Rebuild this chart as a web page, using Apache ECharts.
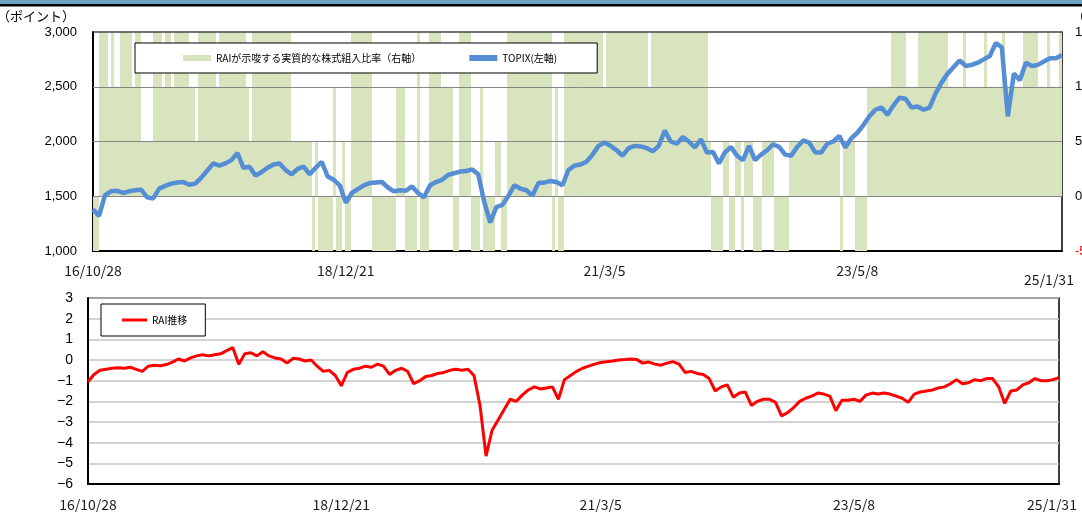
<!DOCTYPE html>
<html><head><meta charset="utf-8">
<script src="https://cdn.jsdelivr.net/npm/echarts@6/dist/echarts.min.js"></script>
<style>html,body{margin:0;padding:0;background:#fff}#c{width:1082px;height:512px}</style>
</head><body><div id="c"></div>
<script>
// x tick labels and the index (in the line series) where each sits
const tickLabels = ['16/10/28','18/12/21','21/3/5','23/5/8','25/1/31'];
const tickIndex = [0,42,85,127,161];

// TOPIX (left axis, points)
const topix = [1380,1320,1510,1545,1550,1530,1545,1555,1560,1490,
 1480,1570,1595,1615,1625,1630,1605,1615,1670,1735,
 1800,1780,1800,1830,1895,1760,1770,1690,1720,1760,
 1790,1800,1740,1700,1750,1770,1700,1760,1815,1680,
 1650,1600,1440,1530,1565,1600,1620,1625,1630,1580,
 1545,1555,1550,1590,1530,1490,1600,1630,1650,1695,
 1710,1725,1730,1745,1700,1450,1260,1400,1420,1500,
 1600,1570,1555,1505,1620,1625,1640,1630,1600,1740,
 1780,1790,1815,1880,1960,1990,1960,1920,1870,1940,
 1960,1955,1940,1910,1960,2100,2000,1980,2040,2000,
 1945,2020,1900,1905,1800,1900,1950,1870,1830,1960,
 1830,1880,1920,1975,1950,1880,1870,1950,2010,1990,
 1900,1900,1980,2000,2050,1945,2030,2080,2150,2230,
 2290,2310,2245,2330,2400,2390,2310,2320,2290,2310,
 2440,2540,2620,2680,2740,2690,2700,2720,2750,2780,
 2900,2860,2230,2620,2560,2720,2690,2700,2730,2760,
 2760,2790];

// RAI (bottom panel)
const rai = [-1.05,-0.7,-0.5,-0.45,-0.4,-0.38,-0.4,-0.35,-0.45,-0.55,
 -0.3,-0.25,-0.28,-0.22,-0.1,0.05,-0.05,0.1,0.2,0.25,
 0.2,0.25,0.3,0.45,0.6,-0.2,0.3,0.35,0.2,0.4,
 0.2,0.1,0.05,-0.15,0.08,0.05,-0.05,0,-0.3,-0.55,
 -0.5,-0.75,-1.25,-0.6,-0.45,-0.4,-0.3,-0.35,-0.2,-0.3,
 -0.7,-0.5,-0.4,-0.55,-1.15,-1.0,-0.8,-0.75,-0.65,-0.6,
 -0.5,-0.45,-0.5,-0.45,-0.75,-2.2,-4.65,-3.4,-2.9,-2.4,
 -1.9,-2.0,-1.7,-1.45,-1.3,-1.4,-1.35,-1.3,-1.9,-0.95,
 -0.75,-0.55,-0.4,-0.3,-0.2,-0.12,-0.08,-0.05,0,0.02,
 0.05,0.02,-0.15,-0.1,-0.2,-0.25,-0.15,-0.08,-0.2,-0.6,
 -0.55,-0.65,-0.7,-0.9,-1.5,-1.3,-1.2,-1.8,-1.6,-1.55,
 -2.2,-2.0,-1.9,-1.9,-2.05,-2.7,-2.55,-2.3,-2.0,-1.85,
 -1.75,-1.6,-1.65,-1.75,-2.45,-1.95,-1.95,-1.9,-2.0,-1.7,
 -1.6,-1.65,-1.6,-1.65,-1.75,-1.85,-2.05,-1.65,-1.55,-1.5,
 -1.45,-1.35,-1.3,-1.15,-0.95,-1.15,-1.1,-0.95,-1.0,-0.9,
 -0.9,-1.3,-2.1,-1.5,-1.45,-1.2,-1.1,-0.9,-1.0,-1.0,
 -0.95,-0.85];

// Implied equity ratio (right axis, %), finer time steps
const equityRatio = [
 -50,-50,150,150,150,100,150,100,100,150,150,150,150,100,150,150,50,50,50,50,
 150,150,150,100,150,150,100,150,150,150,150,150,100,100,50,150,150,150,150,150,
 150,100,150,150,150,150,150,150,150,150,150,100,50,150,150,150,150,150,150,150,
 150,150,150,150,150,150,50,50,50,50,50,50,50,-50,50,-50,-50,-50,-50,-50,
 100,-50,-50,50,-50,-50,150,150,150,150,150,150,150,-50,-50,-50,-50,-50,-50,-50,
 -50,100,100,100,-50,-50,-50,-50,150,-50,-50,-50,150,150,150,150,100,100,100,100,
 -50,-50,150,150,150,150,-50,-50,-50,100,-50,-50,-50,-50,50,50,-50,-50,150,150,
 150,150,150,150,150,150,150,150,150,150,150,150,150,-50,100,-50,-50,150,150,150,
 150,150,150,150,150,150,150,150,150,150,100,150,150,150,150,150,150,150,150,150,
 150,150,150,150,150,100,150,150,150,150,150,150,150,150,150,150,150,150,150,150,
 150,150,150,150,150,50,-50,-50,-50,-50,50,50,-50,-50,50,50,-50,50,50,50,
 -50,-50,-50,50,50,50,50,-50,-50,-50,-50,-50,50,50,50,50,50,50,50,50,
 50,50,50,50,50,50,50,50,50,-50,50,50,50,50,-50,-50,-50,-50,100,100,
 100,100,100,100,100,100,150,150,150,150,150,100,100,100,100,150,150,150,150,150,
 150,150,150,150,150,100,100,100,100,100,150,100,100,100,100,100,100,150,100,100,
 100,100,100,150,100,100,100,100,100,100,150,150,150,150,150,100,100,100,150,100,
 100,100,150];

const lineCats = topix.map((_, i) => i);
const barCats = equityRatio.map((_, i) => i);

const xLabelFont = {fontFamily: '"Noto Sans CJK JP", sans-serif', fontSize: 14, color: '#1a1a1a'};
const yLabelFont = {fontFamily: '"Liberation Sans", Arial, sans-serif', fontSize: 13, color: '#000'};

function tickFmt(lowerLast) {
  return function (v, idx) {
    const k = tickIndex.indexOf(idx);
    if (k < 0) return '';
    if (k === tickLabels.length - 1) return lowerLast ? '{e|' + tickLabels[k] + '}' : '{f|' + tickLabels[k] + '}';
    return tickLabels[k];
  };
}

const chart = echarts.init(document.getElementById('c'), null, {renderer: 'canvas'});
chart.setOption({
  animation: false,
  backgroundColor: '#fff',
  graphic: [
    {type: 'rect', shape: {x: 0, y: 0, width: 1082, height: 4}, style: {fill: '#6aa5bf'}, silent: true},
    {type: 'rect', shape: {x: 0, y: 4, width: 1082, height: 2.5}, style: {fill: '#000'}, silent: true}
  ],
  grid: [
    {left: 93, top: 32, width: 969, height: 219, show: false, containLabel: false, outerBoundsMode: 'none'},
    {left: 88, top: 298, width: 971, height: 186, show: true, borderColor: '#000', borderWidth: 1.5, containLabel: false, outerBoundsMode: 'none'}
  ],
  legend: [
    {
      left: 135, top: 43, orient: 'horizontal',
      backgroundColor: '#fff', borderColor: '#000', borderWidth: 1, borderRadius: 0,
      padding: [10, 40, 10, 48], itemGap: 48, itemWidth: 28, itemHeight: 6,
      textStyle: {fontFamily: '"Noto Sans CJK JP", sans-serif', fontSize: 10, color: '#000'},
      data: [{name: 'RAIが示唆する実質的な株式組入比率（右軸）', icon: 'rect'}, {name: 'TOPIX(左軸)', icon: 'rect'}]
    },
    {
      left: 101, top: 304, orient: 'horizontal',
      backgroundColor: '#fff', borderColor: '#000', borderWidth: 1, borderRadius: 0,
      padding: [11, 18, 11, 21], itemWidth: 25, itemHeight: 3,
      textStyle: {fontFamily: '"Noto Sans CJK JP", sans-serif', fontSize: 10, color: '#000'},
      data: [{name: 'RAI推移', icon: 'rect'}]
    }
  ],
  xAxis: [
    {
      type: 'category', gridIndex: 0, data: lineCats, boundaryGap: false,
      axisLine: {show: true, onZero: false, lineStyle: {color: '#000', width: 2}},
      axisTick: {show: false},
      axisLabel: Object.assign({interval: (i) => tickIndex.includes(i), formatter: tickFmt(true), margin: 13,
        rich: {e: {padding: [9, 26, 0, 0]}, f: {}}}, xLabelFont),
      splitLine: {show: false}
    },
    {
      type: 'category', gridIndex: 0, data: barCats, boundaryGap: true, show: false,
      axisLine: {onZero: false}
    },
    {
      type: 'category', gridIndex: 1, data: lineCats, boundaryGap: false,
      axisLine: {show: true, onZero: false, lineStyle: {color: '#000', width: 2}},
      axisTick: {show: false},
      axisLabel: Object.assign({interval: (i) => tickIndex.includes(i), formatter: tickFmt(false), margin: 14,
        rich: {f: {padding: [0, 14, 0, 0]}}}, xLabelFont),
      splitLine: {show: false}
    }
  ],
  yAxis: [
    {
      type: 'value', gridIndex: 0, min: 1000, max: 3000, interval: 500, position: 'left',
      name: '（ポイント）', nameLocation: 'end', nameGap: 16,
      nameTextStyle: {fontFamily: '"Noto Sans CJK JP", sans-serif', fontSize: 13, color: '#000', align: 'right', verticalAlign: 'middle', padding: [0, 18, 0, 0]},
      axisLine: {show: true, onZero: false, lineStyle: {color: '#000', width: 2}},
      axisTick: {show: false},
      axisLabel: Object.assign({margin: 16, formatter: (v) => v.toLocaleString('en-US')}, yLabelFont),
      splitLine: {show: false}
    },
    {
      type: 'value', gridIndex: 0, min: -50, max: 150, interval: 50, position: 'right',
      name: '（%）', nameLocation: 'end', nameGap: 16,
      nameTextStyle: {fontFamily: '"Noto Sans CJK JP", sans-serif', fontSize: 13, color: '#000', align: 'left', verticalAlign: 'middle', padding: [0, 0, 0, 10]},
      axisLine: {show: true, onZero: false, lineStyle: {color: '#000', width: 1.5}},
      axisTick: {show: false},
      axisLabel: Object.assign({}, yLabelFont, {margin: 13, color: (v) => (Number(v) < 0 ? '#ff0000' : '#000')}),
      splitLine: {show: false}
    },
    {
      type: 'value', gridIndex: 1, min: -6, max: 3, interval: 1,
      axisLine: {show: true, onZero: false, lineStyle: {color: '#000', width: 2}},
      axisTick: {show: false},
      axisLabel: Object.assign({}, yLabelFont, {fontSize: 14, margin: 15, formatter: (v) => String(v).replace('-', '\u2212')}),
      splitLine: {show: true, lineStyle: {color: '#c4c4c4', width: 1.5}}
    }
  ],
  series: [
    {
      name: 'RAIが示唆する実質的な株式組入比率（右軸）', type: 'bar',
      xAxisIndex: 1, yAxisIndex: 1, data: equityRatio,
      barCategoryGap: '0%', barGap: '0%',
      itemStyle: {color: '#d7e4bd'}, silent: true, z: 2,
      markLine: {
        silent: true, symbol: 'none', label: {show: false},
        lineStyle: {color: '#868686', width: 1, type: 'solid'},
        data: [{yAxis: 100}, {yAxis: 50}, {yAxis: 0}, {yAxis: 150, lineStyle: {color: '#444', width: 1.5}}]
      }
    },
    {
      name: 'TOPIX(左軸)', type: 'line', xAxisIndex: 0, yAxisIndex: 0, data: topix,
      showSymbol: false, symbol: 'none', smooth: false,
      lineStyle: {color: '#558ed5', width: 4.5}, itemStyle: {color: '#558ed5'}, z: 5
    },
    {
      name: 'RAI推移', type: 'line', xAxisIndex: 2, yAxisIndex: 2, data: rai,
      showSymbol: false, symbol: 'none',
      lineStyle: {color: '#ff0000', width: 3}, itemStyle: {color: '#ff0000'}, z: 5
    }
  ]
});
</script></body></html>
